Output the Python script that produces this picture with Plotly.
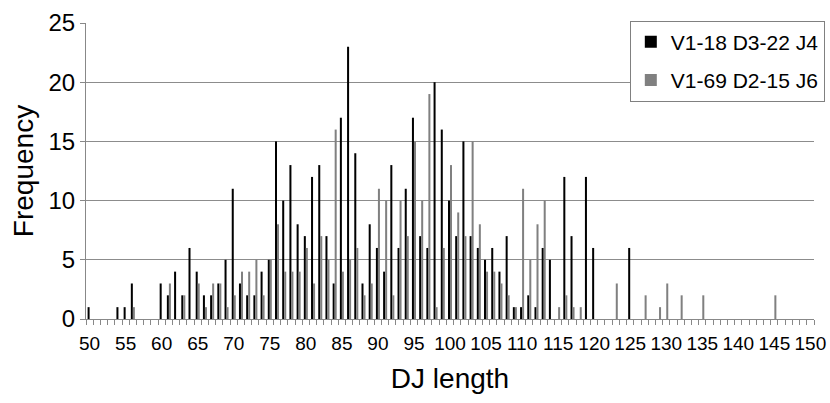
import plotly.graph_objects as go

dj_length = list(range(50, 151))

# V1-18 D3-22 J4 (black)
black_vals = {
    50: 1, 54: 1, 55: 1, 56: 3, 60: 3, 61: 2, 62: 4, 63: 2, 64: 6, 65: 4,
    66: 2, 67: 2, 68: 3, 69: 5, 70: 11, 71: 3, 72: 2, 73: 2, 74: 4, 75: 5,
    76: 15, 77: 10, 78: 13, 79: 8, 80: 7, 81: 12, 82: 13, 83: 7, 84: 3, 85: 17,
    86: 23, 87: 14, 88: 3, 89: 8, 90: 6, 91: 4, 92: 13, 93: 6, 94: 11, 95: 17,
    96: 7, 97: 6, 98: 20, 99: 16, 100: 10, 101: 7, 102: 15, 103: 7, 104: 6,
    105: 5, 106: 6, 107: 4, 108: 7, 109: 1, 110: 1, 111: 2, 112: 1, 113: 6,
    114: 5, 116: 12, 117: 7, 119: 12, 120: 6, 125: 6,
}
# V1-69 D2-15 J6 (gray)
gray_vals = {
    56: 1, 61: 3, 63: 2, 65: 3, 66: 1, 67: 3, 68: 3, 69: 1, 70: 2, 71: 4,
    72: 4, 73: 5, 74: 2, 75: 5, 76: 8, 77: 4, 78: 4, 79: 4, 80: 6, 81: 3,
    82: 7, 83: 5, 84: 16, 85: 4, 86: 5, 87: 6, 88: 2, 89: 3, 90: 11, 91: 10,
    92: 2, 93: 10, 94: 7, 95: 15, 96: 10, 97: 19, 98: 1, 99: 6, 100: 13,
    101: 9, 102: 7, 103: 15, 104: 8, 105: 4, 106: 4, 107: 3, 108: 2, 109: 1,
    110: 11, 111: 5, 112: 8, 113: 10, 115: 1, 116: 2, 117: 1, 118: 1,
    123: 3, 127: 2, 129: 1, 130: 3, 132: 2, 135: 2, 145: 2,
}
series1 = [black_vals.get(x, 0) for x in dj_length]
series2 = [gray_vals.get(x, 0) for x in dj_length]
names = ["V1-18 D3-22 J4", "V1-69 D2-15 J6"]
x_ticks = list(range(50, 151, 5))
y_ticks = [0, 5, 10, 15, 20, 25]

FONT = "Liberation Sans, Arial, sans-serif"

fig = go.Figure()
fig.add_trace(go.Bar(x=dj_length, y=series1, name=names[0], marker_color="#000000",
                     marker_line_width=0, legendgroup="a"))
fig.add_trace(go.Bar(x=dj_length, y=series2, name=names[1], marker_color="#808080",
                     marker_line_width=0, legendgroup="b"))

fig.update_layout(
    width=830, height=403,
    margin=dict(l=86, r=16, t=23, b=84, autoexpand=False),
    paper_bgcolor="white", plot_bgcolor="white",
    barmode="group", bargap=0.44, bargroupgap=0,
    font=dict(family=FONT, color="#000000"),
    legend=dict(
        x=0.747, y=1.008, xanchor="left", yanchor="top",
        bgcolor="white", bordercolor="#808080", borderwidth=1,
        font=dict(size=21, family=FONT),
        tracegroupgap=8, traceorder="grouped",
    ),
    showlegend=True,
)
fig.update_xaxes(
    range=[49.5, 150.5], automargin=False,
    tickmode="array", tickvals=x_ticks, ticktext=[str(v) for v in x_ticks],
    ticks="outside", ticklen=7, tickcolor="rgba(0,0,0,0)",
    tickfont=dict(size=19, family=FONT),
    showline=True, linecolor="#888888", linewidth=1,
    showgrid=False, zeroline=False,
    minor=dict(tickmode="linear", tick0=0.5, dtick=1, ticks="outside",
               ticklen=5, tickcolor="#888888", tickwidth=1, showgrid=False),
    title=dict(text="DJ length", font=dict(size=28, family=FONT), standoff=15),
)
fig.update_yaxes(
    range=[0, 25], automargin=False,
    tickmode="array", tickvals=y_ticks,
    ticks="outside", ticklen=5, tickcolor="#888888",
    tickfont=dict(size=24, family=FONT),
    showline=True, linecolor="#888888", linewidth=1,
    showgrid=True, gridcolor="#8c8c8c", gridwidth=1, zeroline=False,
    title=dict(text="Frequency", font=dict(size=28, family=FONT), standoff=6),
)

fig.write_html("out.html")
